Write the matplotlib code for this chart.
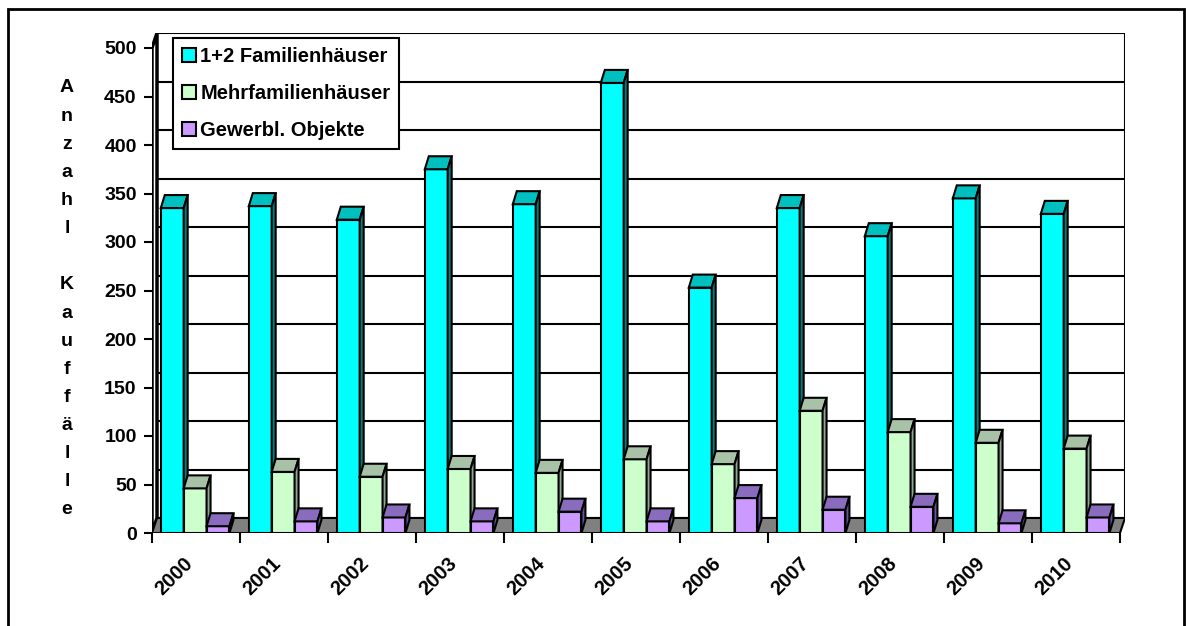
import matplotlib.pyplot as plt
from matplotlib.patches import Polygon, Rectangle, Patch
import numpy as np

plt.rcParams['font.family'] = ['Liberation Sans', 'DejaVu Sans']
plt.rcParams['font.weight'] = 'bold'

# Kauffälle je Jahr
years = ['2000', '2001', '2002', '2003', '2004', '2005', '2006', '2007', '2008', '2009', '2010']
familienhaeuser = [335, 337, 323, 375, 339, 464, 253, 335, 306, 345, 329]
mehrfamilienhaeuser = [46, 63, 58, 66, 62, 76, 71, 126, 104, 93, 87]
gewerbe = [7, 12, 16, 12, 22, 12, 36, 24, 27, 10, 16]
series_names = ['1+2 Familienhäuser', 'Mehrfamilienhäuser', 'Gewerbl. Objekte']
y_label = 'Anzahl Kauffälle'

front_colors = ['#00FFFF', '#CCFFCC', '#CC99FF']
top_colors = ['#00BFBF', '#A8C2A8', '#8A6CBE']
side_colors = ['#008080', '#8EA68E', '#6B509C']

W, H = 1186, 626
fig = plt.figure(figsize=(W / 100, H / 100), dpi=100)

# pixel geometry of the plot area
x0_px, slot_px = 152, 88
y0_px, unit_px = 533, 0.97
n = len(years)
dxw, dyw = 5 / slot_px, 15 / unit_px      # depth of walls / floor
dxb, dyb = 4 / slot_px, 13 / unit_px      # depth of bars
ymax = 500

ax = fig.add_axes([x0_px / W, (H - y0_px) / H,
                   (n * slot_px + 5) / W, (ymax * unit_px + 15) / H])
ax.set_xlim(0, n + dxw)
ax.set_ylim(0, ymax + dyw)
for s in ax.spines.values():
    s.set_visible(False)

# back wall with gridlines
ax.add_patch(Rectangle((dxw, dyw), n, ymax, facecolor='white', edgecolor='black', lw=1.5, zorder=0))
for v in range(50, ymax, 50):
    ax.plot([dxw, n + dxw], [v + dyw, v + dyw], color='black', lw=1.5, zorder=0.5)
# left wall
ax.add_patch(Polygon([(0, 0), (dxw, dyw), (dxw, ymax + dyw), (0, ymax)],
                     facecolor='white', edgecolor='black', lw=2.5, zorder=1))
# floor
ax.add_patch(Polygon([(0, 0), (n, 0), (n + dxw, dyw), (dxw, dyw)],
                     facecolor='#808080', edgecolor='black', lw=1.5, zorder=1))

# 3d bars
width = 0.26
start = 0.10
all_series = [familienhaeuser, mehrfamilienhaeuser, gewerbe]
for i in range(n):
    for j, vals in enumerate(all_series):
        v = vals[i]
        x = i + start + j * width
        z = 3 + i * 3 + j
        ax.bar(x, v, width, align='edge', color=front_colors[j], edgecolor='black', lw=1.5, zorder=z)
        ax.add_patch(Polygon([(x, v), (x + width, v), (x + width + dxb, v + dyb), (x + dxb, v + dyb)],
                             facecolor=top_colors[j], edgecolor='black', lw=1.5, zorder=z))
        ax.add_patch(Polygon([(x + width, 0), (x + width + dxb, dyb), (x + width + dxb, v + dyb), (x + width, v)],
                             facecolor=side_colors[j], edgecolor='black', lw=1.5, zorder=z))

# axes ticks
ax.set_yticks(range(0, ymax + 1, 50))
ax.tick_params(axis='y', length=6, width=1.5, pad=5, labelsize=14)
ax.set_xticks(range(n + 1))
ax.set_xticklabels([])
ax.tick_params(axis='x', length=7, width=1.5, direction='out')
for i, yr in enumerate(years):
    ax.text(i + 0.5 - 0.14, -21, yr, rotation=45, ha='right', va='top',
            rotation_mode='anchor', fontsize=14.5, fontweight='bold', clip_on=False)

# vertical axis title, one letter per line
y_top, step = 88, 28.13
for k, ch in enumerate(y_label):
    fig.text(67 / W, 1 - (y_top + k * step) / H, ch, ha='center', va='center',
             fontsize=14, fontweight='bold')

handles = [Patch(facecolor=c, edgecolor='black', lw=1.5) for c in front_colors]
leg = fig.legend(handles, series_names, loc='upper left', bbox_to_anchor=(173 / W, 1 - 38 / H),
                 borderaxespad=0, fancybox=False, framealpha=1, edgecolor='black',
                 prop={'size': 14.5, 'weight': 'bold'}, handlelength=0.7, handleheight=0.7,
                 handletextpad=0.2, labelspacing=0.9, borderpad=0.45)
leg.get_frame().set_linewidth(1.5)

# outer chart frame
fig.patches.append(Rectangle((8 / W, -0.05), (1184 - 8) / W, 1.05 - 9 / H, transform=fig.transFigure,
                             fill=False, edgecolor='black', lw=2))

fig.savefig('out.png', dpi=100)
